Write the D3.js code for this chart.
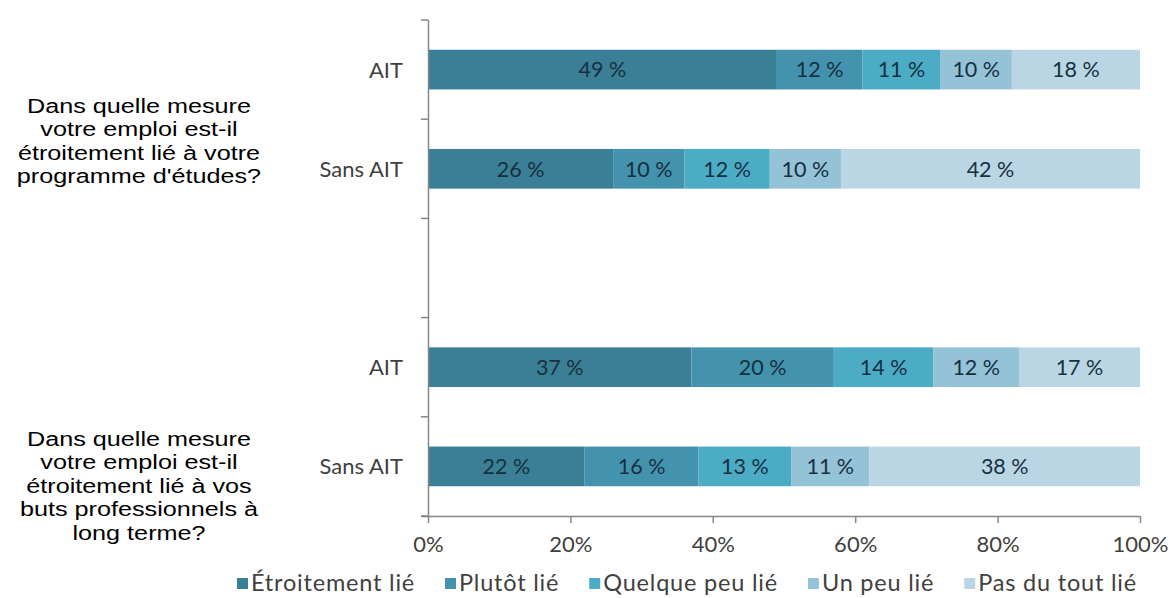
<!DOCTYPE html>
<html>
<head>
<meta charset="utf-8">
<script src="https://cdn.jsdelivr.net/npm/d3@7"></script>
<style>
  body { margin: 0; background: #fff; }
  svg { display: block; }
</style>
</head>
<body>
<svg id="chart" width="1174" height="598"></svg>
<script>
const rows = ["q1-AIT", "q1-Sans", "gap", "q2-AIT", "q2-Sans"];
const rowLabels = ["AIT", "Sans AIT", "", "AIT", "Sans AIT"];
const series = ["Étroitement lié", "Plutôt lié", "Quelque peu lié", "Un peu lié", "Pas du tout lié"];
const colors = ["#3a7f96", "#4393ae", "#4cacc6", "#94c2d6", "#bad6e5"];
const etroitement = [49, 26, null, 37, 22];
const plutot      = [12, 10, null, 20, 16];
const quelque     = [11, 12, null, 14, 13];
const unpeu       = [10, 10, null, 12, 11];
const pasdutout   = [18, 42, null, 17, 38];
const xTicks = [0, 20, 40, 60, 80, 100];
const questions = [
  ["Dans quelle mesure", "votre emploi est-il", "étroitement lié à votre", "programme d'études?"],
  ["Dans quelle mesure", "votre emploi est-il", "étroitement lié à vos", "buts professionnels à", "long terme?"]
];

const seriesValues = [etroitement, plutot, quelque, unpeu, pasdutout];
const svg = d3.select("#chart");
const x = d3.scaleLinear().domain([0, 100]).range([428, 1140]);
const y = d3.scaleBand().domain(rows).range([20, 516]).paddingInner(0.6).paddingOuter(0.3);

const stackData = rows.map((r, i) => {
  const o = { row: r };
  series.forEach((s, j) => o[s] = seriesValues[j][i] || 0);
  return o;
}).filter((d, i) => etroitement[i] !== null);
const stack = d3.stack().keys(series)(stackData);

const labelFont = "Lato, 'Open Sans', sans-serif";

const g = svg.append("g");
stack.forEach((layer, j) => {
  const lg = g.append("g");
  lg.selectAll("rect").data(layer).join("rect")
    .attr("x", d => x(d[0]))
    .attr("width", d => x(d[1]) - x(d[0]))
    .attr("y", d => y(d.data.row))
    .attr("height", y.bandwidth())
    .attr("fill", colors[j]);
  lg.selectAll("text").data(layer).join("text")
    .attr("x", d => (x(d[0]) + x(d[1])) / 2)
    .attr("y", d => y(d.data.row) + y.bandwidth() / 2)
    .attr("dy", "0.36em")
    .attr("text-anchor", "middle")
    .attr("font-family", labelFont)
    .attr("font-size", 21.5)
    .attr("fill", "#17303f")
    .text(d => (d[1] - d[0]) + " %");
});

const axisColor = "#868686";
// y axis
svg.append("line").attr("x1", 428.5).attr("x2", 428.5).attr("y1", 20).attr("y2", 516)
  .attr("stroke", axisColor).attr("stroke-width", 1.5);
d3.range(rows.length + 1).forEach(i => {
  const yy = 20 + i * y.step();
  svg.append("line").attr("x1", 421).attr("x2", 428).attr("y1", yy).attr("y2", yy)
    .attr("stroke", axisColor).attr("stroke-width", 1.5);
});
svg.append("g").selectAll("text").data(rows).join("text")
  .attr("x", 403)
  .attr("y", d => y(d) + y.bandwidth() / 2)
  .attr("dy", "0.36em")
  .attr("text-anchor", "end")
  .attr("font-family", labelFont)
  .attr("font-size", 22)
  .attr("fill", "#404040")
  .text((d, i) => rowLabels[i]);

// x axis
const xAxis = svg.append("g").attr("transform", "translate(0,516)")
  .call(d3.axisBottom(x).tickValues(xTicks).tickFormat(d => d + "%").tickSize(7).tickSizeOuter(0));
xAxis.select(".domain").attr("stroke", axisColor).attr("stroke-width", 1.5).attr("d", "M421,0.5H1140");
xAxis.selectAll(".tick line").attr("stroke", axisColor).attr("stroke-width", 1.5);
xAxis.selectAll(".tick text").attr("font-family", labelFont).attr("font-size", 22)
  .attr("fill", "#404040").attr("y", 28).attr("dy", "0.36em");

// questions
const qFirstLine = [105, 438];
questions.forEach((lines, qi) => {
  const lh = 23.6;
  const qg = svg.append("g").attr("transform", "translate(139,0) scale(1.2,1)");
  lines.forEach((l, k) => {
    qg.append("text")
      .attr("text-anchor", "middle")
      .attr("font-family", "'Liberation Sans', Arial, sans-serif")
      .attr("font-size", 21)
      .attr("fill", "#000")
      .attr("x", 0).attr("y", qFirstLine[qi] + k * lh).attr("dy", "0.36em").text(l);
  });
});

// legend
const legend = svg.append("g");
const items = legend.selectAll("g").data(series).join("g");
items.append("rect").attr("width", 11).attr("height", 11).attr("y", -5).attr("fill", (d, i) => colors[i]);
items.append("text").attr("x", 14).attr("dy", "0.36em")
  .attr("font-family", labelFont).attr("font-size", 23.5).attr("letter-spacing", 0.8)
  .attr("fill", "#404040")
  .text(d => d);
const widths = items.nodes().map(n => 14 + n.querySelector("text").getComputedTextLength());
const gapW = 30;
const total = d3.sum(widths) + gapW * (series.length - 1);
let cx = 687 - total / 2;
items.attr("transform", (d, i) => {
  const tx = cx; cx += widths[i] + gapW;
  return `translate(${tx},583)`;
});
</script>
</body>
</html>
